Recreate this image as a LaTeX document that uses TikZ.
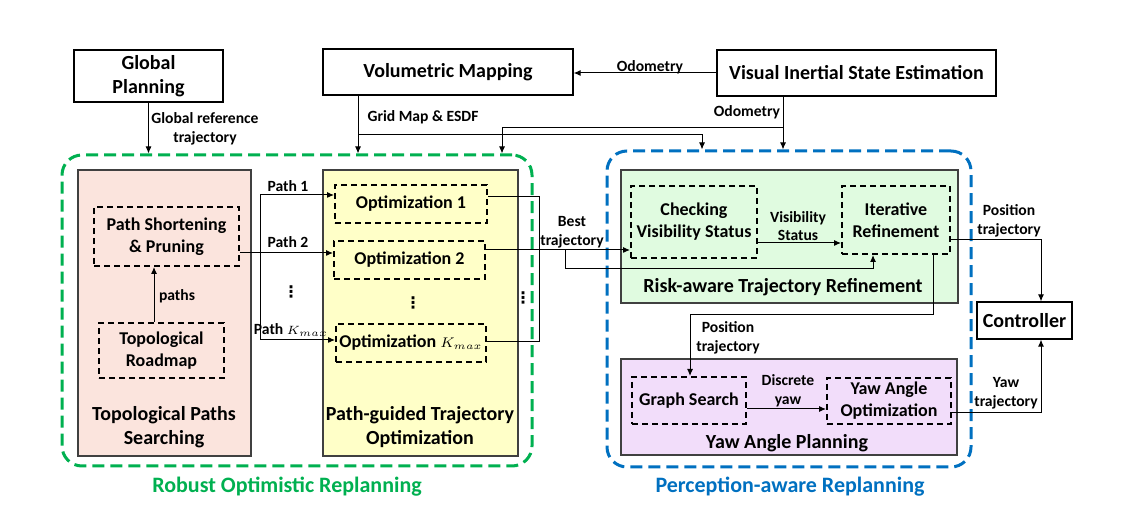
\documentclass[tikz,border=0pt]{standalone}
\usepackage{fontspec}
\setmainfont{Carlito}
\newfontfamily\symfont{DejaVu Sans}
\usetikzlibrary{arrows.meta}

\newcommand{\px}{0.5pt}
\newcommand{\fbig}{\fontsize{10}{12}\selectfont\bfseries}
\newcommand{\fmid}{\fontsize{9}{11}\selectfont\bfseries}
\newcommand{\fsmall}{\fontsize{7.8}{9.4}\selectfont\bfseries}
\newcommand{\ftitle}{\fontsize{11}{13}\selectfont\bfseries}
\newcommand{\kmax}[1]{{\fontsize{#1}{#1}\selectfont$K_{max}$}}

\definecolor{ropgreen}{RGB}{0,176,80}
\definecolor{prablue}{RGB}{0,112,192}
\definecolor{tpsfill}{RGB}{251,228,221}
\definecolor{pgofill}{RGB}{255,255,200}
\definecolor{rtrfill}{RGB}{224,251,224}
\definecolor{yapfill}{RGB}{242,221,250}

\tikzset{
  arr/.style={-{Latex[length=3.5pt,width=3pt]}, line width=0.5pt},
  link/.style={line width=0.5pt},
  solidbox/.style={draw, line width=0.6pt, align=center, inner sep=0pt, font=\fbig},
  dashbox/.style={draw, line width=1pt, dash pattern=on 3pt off 2pt, align=center, inner sep=0pt, font=\fmid},
  panel/.style={draw=black!75, line width=0.7pt, inner sep=0pt},
  outerbox/.style={line width=1.5pt, dash pattern=on 6pt off 3pt, rounded corners=10pt, inner sep=0pt},
  tag/.style={align=center, font=\fsmall, inner sep=0pt},
  title/.style={align=center, font=\fbig, inner sep=0pt},
  dotcol/.style={font=\symfont\bfseries\fontsize{8}{8}\selectfont, inner sep=0pt},
}

\begin{document}
\begin{tikzpicture}[x=\px, y=-\px]
\useasboundingbox (0,0) rectangle (1124,512);

% outer groups
\node[outerbox, draw=ropgreen, minimum width=470*\px, minimum height=311*\px] (rop) at (297,310.5) {};
\node[outerbox, draw=prablue, minimum width=364*\px, minimum height=316*\px] (pra) at (789,309) {};
\node[font=\ftitle, text=ropgreen] (ropT) at (287,487) {Robust Optimistic Replanning};
\node[font=\ftitle, text=prablue] (praT) at (790,487) {Perception-aware Replanning};

% top row
\node[solidbox, minimum width=149*\px, minimum height=52*\px] (gp) at (148.5,76) {Global\\Planning};
\node[solidbox, minimum width=250*\px, minimum height=46*\px] (vm) at (448,72) {Volumetric Mapping};
\node[solidbox, minimum width=279*\px, minimum height=46*\px] (vise) at (856.5,73) {Visual Inertial State Estimation};
\node[solidbox, minimum width=95*\px, minimum height=37*\px] (ctrl) at (1024.5,320.5) {Controller};

% panels
\node[panel, fill=tpsfill, minimum width=173*\px, minimum height=286*\px] (tps) at (164.5,313) {};
\node[title] (tpsT) at (164,427) {Topological Paths\\Searching};
\node[panel, fill=pgofill, minimum width=195*\px, minimum height=286*\px] (pgo) at (420.5,313) {};
\node[title] (pgoT) at (420,427) {Path-guided Trajectory\\Optimization};
\node[panel, fill=rtrfill, minimum width=337*\px, minimum height=133*\px] (rtr) at (789.5,236.5) {};
\node[title] (rtrT) at (783,287) {Risk-aware Trajectory Refinement};
\node[panel, fill=yapfill, minimum width=336*\px, minimum height=96*\px] (yap) at (789,407) {};
\node[title] (yapT) at (787,443) {Yaw Angle Planning};

% dashed steps
\node[dashbox, minimum width=145*\px, minimum height=59*\px] (psp) at (166.5,236.5) {Path Shortening\\\& Pruning};
\node[dashbox, minimum width=125*\px, minimum height=55*\px] (topo) at (161.5,350.5) {Topological\\Roadmap};
\node[dashbox, minimum width=152*\px, minimum height=38*\px] (opt1) at (411,204) {Optimization 1};
\node[dashbox, minimum width=151*\px, minimum height=38*\px] (opt2) at (409.5,260) {Optimization 2};
\node[dashbox, minimum width=150*\px, minimum height=38*\px] (optk) at (411,343) {Optimization \kmax{7}};
\node[dashbox, minimum width=126*\px, minimum height=72*\px] (cvs) at (694,222) {Checking\\Visibility Status};
\node[dashbox, minimum width=108*\px, minimum height=68*\px] (iref) at (896,220) {Iterative\\Refinement};
\node[dashbox, minimum width=114*\px, minimum height=47*\px] (gs) at (689,400.5) {Graph Search};
\node[dashbox, minimum width=124*\px, minimum height=46*\px] (yao) at (889,401) {Yaw Angle\\Optimization};

\node[dotcol] (dl) at (291,292) {⋮};
\node[dotcol] (dm) at (413,303) {⋮};
\node[dotcol] (dr) at (523,298) {⋮};

% labels
\node[tag] (grtT) at (205,129) {Global reference\\trajectory};
\node[tag] (gmT) at (423,117) {Grid Map \& ESDF};
\node[tag] (od1T) at (650,67) {Odometry};
\node[tag] (od2T) at (747,112) {Odometry};
\node[tag] (p1T) at (288,186) {Path 1};
\node[tag] (p2T) at (288,242) {Path 2};
\node[tag] (pkT) at (291,330) {Path \kmax{6}};
\node[tag] (pathsT) at (177,296) {paths};
\node[tag] (btT) at (572,232) {Best\\trajectory};
\node[tag] (vsT) at (798,226) {Visibility\\Status};
\node[tag] (ptT) at (1009,221) {Position\\trajectory};
\node[tag] (pt2T) at (728,338) {Position\\trajectory};
\node[tag] (dyT) at (788,391) {Discrete\\yaw};
\node[tag] (ytT) at (1006,393) {Yaw\\trajectory};

% connectors
\coordinate (gm) at (358,135);
\coordinate (gm2) at (702,135);
\coordinate (od) at (783,128);
\coordinate (od2) at (502,128);
\draw[arr] (gp.south) -- (gp.south |- rop.north); % global reference
\draw[arr] (gm |- vm.south) -- (gm |- rop.north); % grid map
\draw[arr] (gm) -- (gm2) -- (gm2 |- pra.north);
\draw[arr] (od |- vise.south) -- (od |- pra.north); % odometry
\draw[arr] (od) -- (od2) -- (od2 |- rop.north);
\draw[arr] (vise.west) -- (vise.west -| vm.east);

\coordinate (pa) at (154,300);
\draw[arr] (pa |- topo.north) -- (pa |- psp.south); % paths
\coordinate (fk1) at (260,195);
\coordinate (fk2) at (260,253);
\coordinate (fkk) at (260,340);
\draw[link] (fk1) -- (fkk);
\draw[arr] (fk1) -- (fk1 -| opt1.west);
\draw[arr] (fk2 -| psp.east) -- (fk2 -| opt2.west);
\draw[arr] (fkk) -- (fkk -| optk.west);

\coordinate (mg1) at (539,197);
\coordinate (mgk) at (539,342);
\draw[link] (mg1 -| opt1.east) -- (mg1) -- (mgk) -- (mgk -| optk.east);
\coordinate (bt) at (565,250);
\coordinate (bt2) at (565,269);
\coordinate (bt3) at (873,269);
\draw[arr] (bt -| opt2.east) -- (bt -| cvs.west); % best trajectory
\draw[arr] (bt) -- (bt2) -- (bt3) -- (bt3 |- iref.south);

\coordinate (vs) at (800,243);
\draw[arr] (vs -| cvs.east) -- (vs -| iref.west); % visibility status
\coordinate (pt) at (1041,240);
\draw[arr] (pt -| iref.east) -- (pt) -- (pt |- ctrl.north); % position trajectory
\coordinate (yt) at (1041,413);
\draw[arr] (yt -| yao.east) -- (yt) -- (yt |- ctrl.south); % yaw trajectory
\coordinate (pp) at (933,315);
\coordinate (pp2) at (690,315);
\draw[arr] (pp |- iref.south) -- (pp) -- (pp2) -- (pp2 |- gs.north);
\coordinate (dy) at (790,409);
\draw[arr] (dy -| gs.east) -- (dy -| yao.west); % discrete yaw
\end{tikzpicture}
\end{document}
